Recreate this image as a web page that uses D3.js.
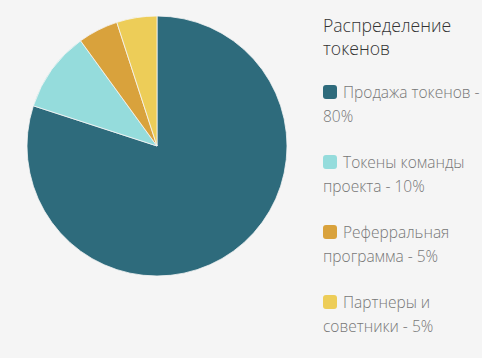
<!DOCTYPE html>
<html><head><meta charset="utf-8">
<script src="https://cdn.jsdelivr.net/npm/d3@7"></script>
<style>
html,body{margin:0;padding:0;background:#f5f5f5;}
svg{display:block;font-family:"Open Sans",sans-serif;}
</style></head><body>
<script>
const categories = ["Продажа токенов", "Токены команды проекта", "Реферральная программа", "Партнеры и советники"];
const values = [80, 10, 5, 5];
const colors = ["#2e6b7c", "#95dcdc", "#d9a23c", "#edcd58"];
const legendLines = [["Продажа токенов -", "80%"], ["Токены команды", "проекта - 10%"], ["Реферральная", "программа - 5%"], ["Партнеры и", "советники - 5%"]];
const title = ["Распределение", "токенов"];

const W = 482, H = 358;
const svg = d3.select("body").append("svg").attr("width", W).attr("height", H);
const cx = 157, cy = 146, r = 130;
const pie = d3.pie().sort(null).value(d => d);
const arc = d3.arc().innerRadius(0).outerRadius(r);
const g = svg.append("g").attr("transform", `translate(${cx},${cy})`);
g.selectAll("path").data(pie(values)).join("path")
  .attr("d", arc).attr("fill", (d, i) => colors[i])
  .attr("stroke", "#f5f5f5").attr("stroke-width", 0.8);

const lg = svg.append("g").attr("transform", "translate(323,0)");
lg.selectAll("text.title").data(title).join("text").attr("class", "title")
  .attr("x", 0).attr("y", (d, i) => 32 + i * 23)
  .attr("font-size", 17.6).attr("font-weight", 300).attr("fill", "#333").text(d => d);

const items = lg.selectAll("g.item").data(categories).join("g").attr("class", "item")
  .attr("transform", (d, i) => `translate(0,${85 + i * 70})`);
items.append("rect").attr("x", 0).attr("y", 0).attr("width", 14).attr("height", 14)
  .attr("rx", 3).attr("fill", (d, i) => colors[i]);
items.append("text").attr("x", 20).attr("y", 13).attr("font-size", 15.5)
  .attr("font-weight", 300).attr("fill", "#777").text((d, i) => legendLines[i][0]);
items.append("text").attr("x", 0).attr("y", 37).attr("font-size", 15.5)
  .attr("font-weight", 300).attr("fill", "#777").text((d, i) => legendLines[i][1]);
</script>
</body></html>
